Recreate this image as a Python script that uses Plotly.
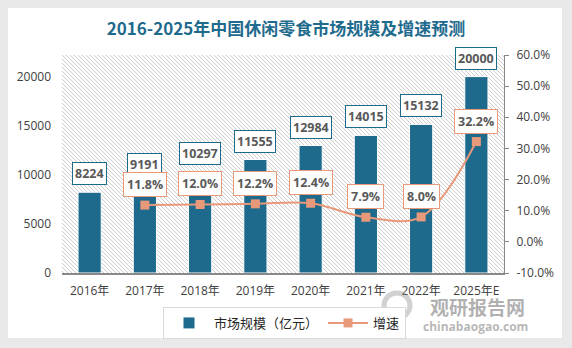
import base64
import plotly.graph_objects as go

# ---- data ----
years = ["2016年", "2017年", "2018年", "2019年", "2020年", "2021年", "2022年", "2025年E"]
market_size = [8224, 9191, 10297, 11555, 12984, 14015, 15132, 20000]
growth = [None, 11.8, 12.0, 12.2, 12.4, 7.9, 8.0, 32.2]
growth_labels = [None, "11.8%", "12.0%", "12.2%", "12.4%", "7.9%", "8.0%", "32.2%"]
left_ticks = [0, 5000, 10000, 15000, 20000]
right_ticks = [-10, 0, 10, 20, 30, 40, 50, 60]

title = "2016-2025年中国休闲零食市场规模及增速预测"
bar_name = "市场规模（亿元）"
line_name = "增速"

BAR = "#1d6a8c"
LINE = "#e8997a"
TXT = "#404040"
FONT = "Open Sans, Noto Sans CJK SC"

W, H = 572, 348
L, R, T, B = 62, 68, 55, 75
PW, PH = W - L - R, H - T - B


def xp(px):
    return (px - L) / PW


def yp(py):
    return (H - B - py) / PH


fig = go.Figure()
fig.add_trace(go.Bar(
    x=years, y=market_size, name=bar_name, width=0.42,
    marker=dict(color=BAR, line=dict(color="white", width=1)),
    yaxis="y",
))
fig.add_trace(go.Scatter(
    x=years, y=growth, name=line_name, mode="lines+markers", yaxis="y2",
    line=dict(color=LINE, width=2, shape="spline", smoothing=1),
    marker=dict(symbol="square", size=9, color=LINE),
    connectgaps=False,
))

annotations = []
for x, v in zip(years, market_size):
    annotations.append(dict(
        x=x, y=v, xref="x", yref="y", text=f"<b>{v}</b>", showarrow=False,
        yanchor="bottom", yshift=7, bgcolor="white", bordercolor=BAR,
        borderwidth=1, borderpad=2, font=dict(family=FONT, size=12.5, color="#595959"),
    ))
for x, v, lab in zip(years, growth, growth_labels):
    if v is None:
        continue
    annotations.append(dict(
        x=x, y=v, xref="x", yref="y2", text=f"<b>{lab}</b>", showarrow=False,
        yanchor="bottom", yshift=8, bgcolor="white", bordercolor=LINE,
        borderwidth=1, borderpad=3, font=dict(family=FONT, size=12.5, color="#595959"),
    ))

# watermark
annotations.append(dict(
    x=xp(477), y=yp(306), xref="paper", yref="paper", showarrow=False,
    xanchor="center", yanchor="middle",
    text="<b>观研报告网</b>", font=dict(family="Noto Sans CJK SC", size=19, color="rgba(110,110,110,0.55)"),
))
annotations.append(dict(
    x=xp(475), y=yp(326), xref="paper", yref="paper", showarrow=False,
    xanchor="center", yanchor="middle",
    text="<b>chinabaogao.com</b>", font=dict(family="Open Sans", size=12, color="rgba(110,110,110,0.5)"),
))

# hatched plot background
svg = (f'<svg xmlns="http://www.w3.org/2000/svg" width="{PW}" height="{PH}" '
       f'viewBox="0 0 {PW} {PH}" preserveAspectRatio="none"><defs>'
       '<pattern id="h" patternUnits="userSpaceOnUse" width="4" height="4">'
       '<path d="M-1,-1 L5,5 M-1,3 L1,5 M3,-1 L5,1" stroke="#cccccc" stroke-width="1"/>'
       '</pattern></defs>'
       f'<rect width="{PW}" height="{PH}" fill="url(#h)"/></svg>')
src = "data:image/svg+xml;base64," + base64.b64encode(svg.encode()).decode()

gray = "#e9e9e9"
shapes = [
    dict(type="rect", xref="paper", yref="paper", x0=-0.3, x1=xp(8), y0=-0.5, y1=1.5, fillcolor=gray, line_width=0, layer="below"),
    dict(type="rect", xref="paper", yref="paper", x0=xp(562), x1=1.3, y0=-0.5, y1=1.5, fillcolor=gray, line_width=0, layer="below"),
    dict(type="rect", xref="paper", yref="paper", x0=-0.3, x1=1.3, y0=yp(8), y1=1.5, fillcolor=gray, line_width=0, layer="below"),
    dict(type="rect", xref="paper", yref="paper", x0=-0.3, x1=1.3, y0=-0.5, y1=yp(338), fillcolor=gray, line_width=0, layer="below"),
    # watermark logo ring
    dict(type="circle", xref="paper", yref="paper", x0=xp(384), x1=xp(410), y0=yp(318), y1=yp(293),
         line=dict(color="rgba(140,140,140,0.4)", width=5), fillcolor="rgba(0,0,0,0)"),
]

fig.update_layout(
    width=W, height=H,
    margin=dict(l=L, r=R, t=T, b=B, autoexpand=False),
    paper_bgcolor="white", plot_bgcolor="rgba(0,0,0,0)",
    title=dict(text=f"<b>{title}</b>", x=0.5, xref="container", y=1 - 29 / H, yanchor="middle",
               font=dict(family="Noto Sans CJK SC", size=17, color="#1f6b8e")),
    barmode="overlay",
    xaxis=dict(type="category", range=[-0.5, 7.5], showline=True, linecolor="#898989", linewidth=1.5,
               ticks="", tickfont=dict(family=FONT, size=12, color=TXT), showgrid=False, automargin=False,
               ticklabelstandoff=6),
    yaxis=dict(range=[0, 22200], tickvals=left_ticks, ticktext=[str(v) for v in left_ticks],
               showgrid=False, zeroline=False, automargin=False,
               showline=False, tickfont=dict(family=FONT, size=12, color=TXT), ticklabelstandoff=10),
    yaxis2=dict(overlaying="y", side="right", range=[-10, 60], tickvals=right_ticks,
                ticktext=[f"{v:.1f}%" for v in right_ticks], automargin=False,
                showgrid=False, zeroline=False, showline=True, linecolor="#898989", linewidth=1,
                ticks="outside", ticklen=4, tickcolor="#898989", ticklabelstandoff=5,
                tickfont=dict(family=FONT, size=12, color=TXT)),
    legend=dict(orientation="h", x=xp(284.5), xanchor="center", y=yp(307), yanchor="top",
                bordercolor="#d9d9d9", borderwidth=1, bgcolor="white", itemwidth=40,
                font=dict(family="Noto Sans CJK SC", size=13, color="#262626")),
    annotations=annotations,
    shapes=shapes,
    images=[dict(source=src, xref="paper", yref="paper", x=0, y=1, sizex=1, sizey=1,
                 xanchor="left", yanchor="top", sizing="stretch", layer="below")],
)

fig.write_html("out.html")
